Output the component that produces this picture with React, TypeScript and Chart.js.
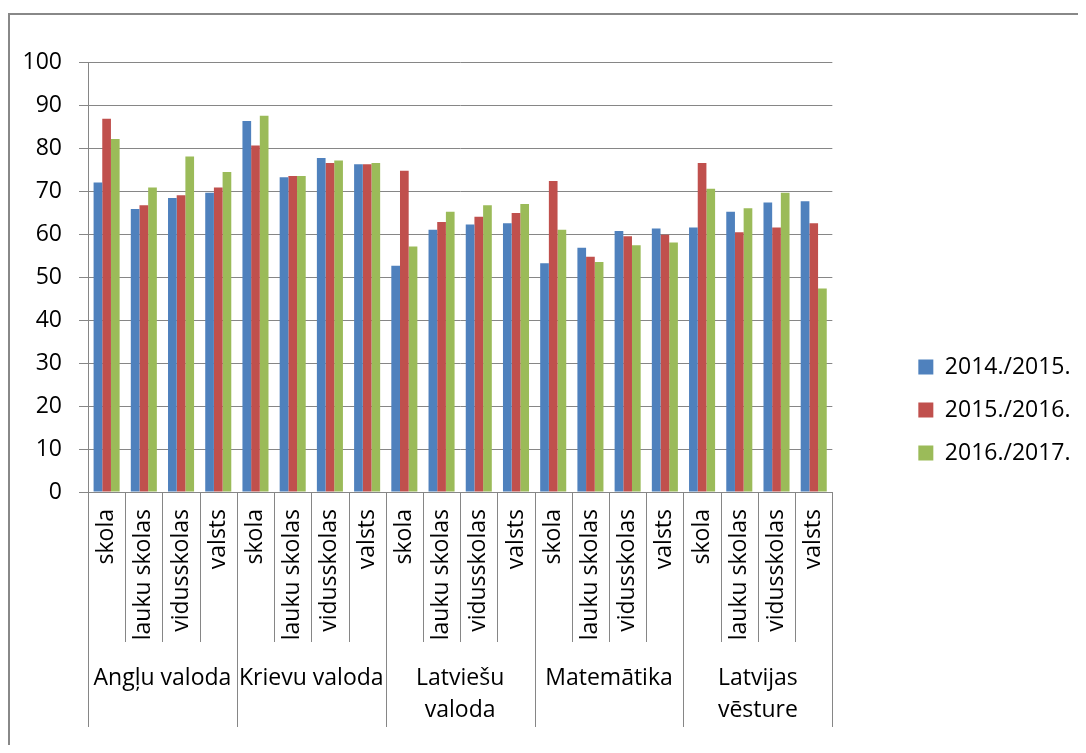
import React, { useEffect, useRef } from "react";
import { Chart, registerables } from "chart.js";

Chart.register(...registerables);

const subCategories = ["skola", "lauku skolas", "vidusskolas", "valsts"];
const groupLabels: string[][] = [
  ["Angļu valoda"],
  ["Krievu valoda"],
  ["Latviešu", "valoda"],
  ["Matemātika"],
  ["Latvijas", "vēsture"],
];
const seriesNames = ["2014./2015.", "2015./2016.", "2016./2017."];
const values2014 = [72.0, 65.8, 68.4, 69.6, 86.3, 73.2, 77.7, 76.2, 52.6, 61.0, 62.2, 62.5, 53.2, 56.8, 60.7, 61.3, 61.5, 65.2, 67.3, 67.6];
const values2015 = [86.8, 66.7, 69.0, 70.8, 80.6, 73.5, 76.5, 76.2, 74.7, 62.8, 64.0, 64.9, 72.3, 54.7, 59.5, 59.8, 76.5, 60.4, 61.5, 62.5];
const values2016 = [82.1, 70.8, 78.0, 74.4, 87.5, 73.5, 77.1, 76.5, 57.1, 65.2, 66.7, 67.0, 61.0, 53.5, 57.4, 58.0, 70.5, 66.0, 69.6, 47.3];
const seriesColors = ["#4F81BD", "#C0504D", "#9BBB59"];

const FONT = "'Open Sans'";
const GRID = "#868686";

const labels: string[] = [];
groupLabels.forEach(() => subCategories.forEach((s) => labels.push(s)));

const groupPlugin = {
  id: "groupPlugin",
  afterDraw(chart: any) {
    const ctx = chart.ctx;
    const xs = chart.scales.x;
    const bottom = chart.chartArea.bottom;
    const n = labels.length;
    const per = subCategories.length;
    ctx.save();
    ctx.strokeStyle = GRID;
    ctx.lineWidth = 1;
    for (let i = 0; i <= n; i++) {
      const x = Math.round(xs.getPixelForValue(i - 0.5)) + 0.5;
      const len = i % per === 0 ? 235 : 150;
      ctx.beginPath();
      ctx.moveTo(x, bottom);
      ctx.lineTo(x, bottom + len);
      ctx.stroke();
    }
    ctx.fillStyle = "#000";
    ctx.font = `23px ${FONT}`;
    ctx.textAlign = "center";
    ctx.textBaseline = "middle";
    groupLabels.forEach((g, gi) => {
      const x0 = xs.getPixelForValue(gi * per - 0.5);
      const x1 = xs.getPixelForValue((gi + 1) * per - 0.5);
      const cx = (x0 + x1) / 2;
      g.forEach((line, li) => {
        ctx.fillText(line, cx, bottom + 186 + li * 32);
      });
    });
    ctx.restore();
  },
};

export default function App() {
  const ref = useRef<HTMLCanvasElement>(null);
  useEffect(() => {
    if (!ref.current) return;
    const chart = new Chart(ref.current, {
      type: "bar",
      data: {
        labels,
        datasets: [values2014, values2015, values2016].map((d, i) => ({
          label: seriesNames[i],
          data: d,
          backgroundColor: seriesColors[i],
          borderWidth: 0,
          categoryPercentage: 0.7,
          barPercentage: 1,
        })),
      },
      options: {
        responsive: false,
        animation: false,
        layout: { padding: { top: 47, left: 0, right: 10, bottom: 0 } },
        plugins: {
          tooltip: { enabled: false },
          legend: {
            position: "right",
            align: "center",
            labels: {
              boxWidth: 15,
              boxHeight: 15,
              padding: 20,
              color: "#000",
              font: { family: FONT, size: 23 },
            },
          },
        },
        scales: {
          x: {
            type: "category",
            grid: { display: false, drawTicks: false },
            border: { display: false },
            ticks: {
              minRotation: 90,
              maxRotation: 90,
              autoSkip: false,
              padding: 17,
              color: "#000",
              font: { family: FONT, size: 23 },
            },
            afterFit: (s: any) => {
              s.height = 266;
            },
          },
          y: {
            min: 0,
            max: 100,
            ticks: {
              stepSize: 10,
              padding: 17,
              color: "#000",
              font: { family: FONT, size: 23 },
            },
            grid: { color: GRID, tickLength: 9, lineWidth: 1 },
            border: { color: GRID, width: 1 },
            afterFit: (s: any) => {
              s.width = 78;
            },
          },
          gap: {
            type: "linear",
            position: "right",
            display: true,
            grid: { display: false, drawTicks: false },
            ticks: { display: false },
            border: { display: false },
            afterFit: (s: any) => {
              s.width = 66;
            },
          },
        },
      } as any,
      plugins: [groupPlugin],
    });
    return () => chart.destroy();
  }, []);
  return (
    <div
      style={{
        marginTop: 5,
        width: 1076,
        height: 730,
        borderTop: "2px solid #888",
        borderLeft: "2px solid #888",
        overflow: "hidden",
        background: "#fff",
      }}
    >
      <canvas ref={ref} width={1076} height={743} style={{ display: "block" }} />
    </div>
  );
}
